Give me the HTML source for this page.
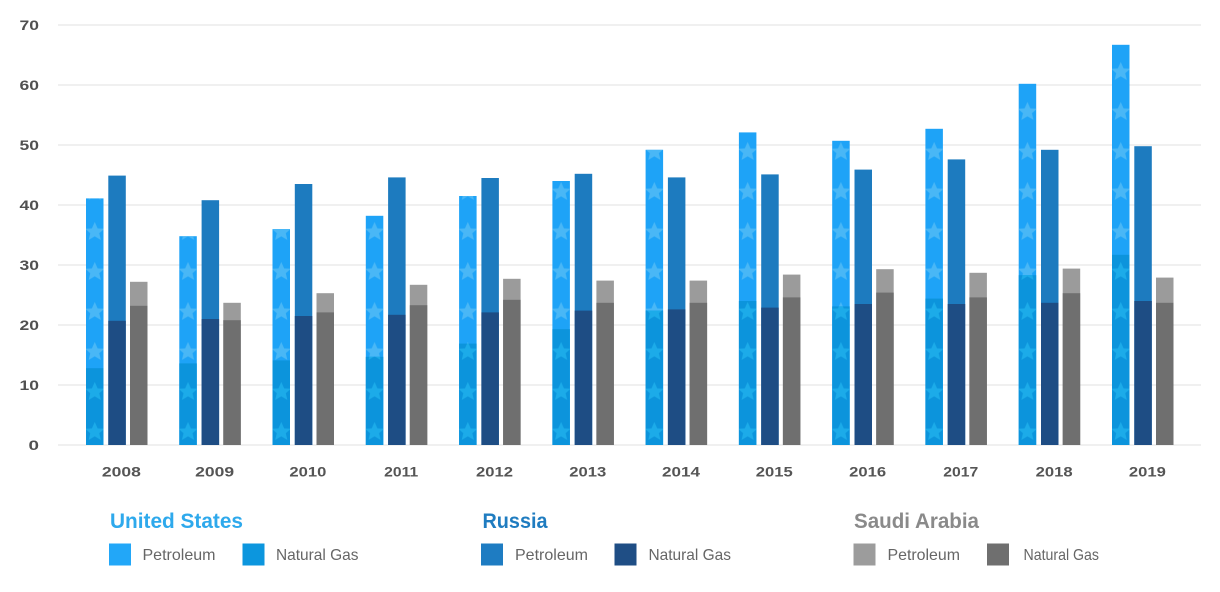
<!DOCTYPE html>
<html>
<head>
<meta charset="utf-8">
<style>
  html,body{margin:0;padding:0;background:#fff;}
  svg{display:block;}
  text{font-family:"Liberation Sans",sans-serif;}
  .b{font-weight:700;}
</style>
</head>
<body>
<svg width="1220" height="592" viewBox="0 0 1220 592" xmlns="http://www.w3.org/2000/svg">
  <defs>
    <pattern id="pl" patternUnits="userSpaceOnUse" x="86" y="411.7" width="93.27" height="40">
      <path transform="translate(8.75,20) scale(1.15)" fill="#5cc0f6" opacity="0.7" d="M0,-8.5 L2.5,-2.8 L8.4,-2.6 L3.9,1.3 L5.3,7.2 L0,4 L-5.3,7.2 L-3.9,1.3 L-8.4,-2.6 L-2.5,-2.8 Z"/>
    </pattern>
    <pattern id="pg" patternUnits="userSpaceOnUse" x="86" y="411.7" width="93.27" height="40">
      <path transform="translate(8.75,20) scale(1.15)" fill="#22b6ee" opacity="0.7" d="M0,-8.5 L2.5,-2.8 L8.4,-2.6 L3.9,1.3 L5.3,7.2 L0,4 L-5.3,7.2 L-3.9,1.3 L-8.4,-2.6 L-2.5,-2.8 Z"/>
    </pattern>
  </defs>
  <rect width="1220" height="592" fill="#fff"/>

  <!-- grid -->
  <g stroke="#e6e6e6" stroke-width="1.2">
    <line x1="58" x2="1201" y1="445" y2="445"/>
    <line x1="58" x2="1201" y1="385" y2="385"/>
    <line x1="58" x2="1201" y1="325" y2="325"/>
    <line x1="58" x2="1201" y1="265" y2="265"/>
    <line x1="58" x2="1201" y1="205" y2="205"/>
    <line x1="58" x2="1201" y1="145" y2="145"/>
    <line x1="58" x2="1201" y1="85" y2="85"/>
    <line x1="58" x2="1201" y1="25" y2="25"/>
  </g>

  <!-- y labels -->
  <g class="b" font-size="13.5" fill="#505050" text-anchor="end">
    <text x="39" y="449.8" textLength="10.5" lengthAdjust="spacingAndGlyphs">0</text>
    <text x="39" y="389.8" textLength="19.5" lengthAdjust="spacingAndGlyphs">10</text>
    <text x="39" y="329.8" textLength="19.5" lengthAdjust="spacingAndGlyphs">20</text>
    <text x="39" y="269.8" textLength="19.5" lengthAdjust="spacingAndGlyphs">30</text>
    <text x="39" y="209.8" textLength="19.5" lengthAdjust="spacingAndGlyphs">40</text>
    <text x="39" y="149.8" textLength="19.5" lengthAdjust="spacingAndGlyphs">50</text>
    <text x="39" y="89.8" textLength="19.5" lengthAdjust="spacingAndGlyphs">60</text>
    <text x="39" y="29.8" textLength="19.5" lengthAdjust="spacingAndGlyphs">70</text>
  </g>

  <!-- US petroleum (full bars) -->
  <g fill="#1ea3f7">
    <rect x="86" y="198.4" width="17.5" height="246.6"/>
    <rect x="179.3" y="236.2" width="17.5" height="208.8"/>
    <rect x="272.5" y="229" width="17.5" height="216"/>
    <rect x="365.8" y="215.8" width="17.5" height="229.2"/>
    <rect x="459.1" y="196" width="17.5" height="249"/>
    <rect x="552.4" y="181" width="17.5" height="264"/>
    <rect x="645.6" y="149.8" width="17.5" height="295.2"/>
    <rect x="738.9" y="132.4" width="17.5" height="312.6"/>
    <rect x="832.2" y="140.8" width="17.5" height="304.2"/>
    <rect x="925.4" y="128.8" width="17.5" height="316.2"/>
    <rect x="1018.7" y="83.8" width="17.5" height="361.2"/>
    <rect x="1112" y="44.8" width="17.5" height="400.2"/>
  </g>
  <!-- US petroleum stars -->
  <g fill="url(#pl)">
    <rect x="86" y="198.4" width="17.5" height="169.8"/>
    <rect x="179.3" y="236.2" width="17.5" height="127.2"/>
    <rect x="272.5" y="229" width="17.5" height="131.4"/>
    <rect x="365.8" y="215.8" width="17.5" height="141"/>
    <rect x="459.1" y="196" width="17.5" height="147.6"/>
    <rect x="552.4" y="181" width="17.5" height="148.2"/>
    <rect x="645.6" y="149.8" width="17.5" height="160.8"/>
    <rect x="738.9" y="132.4" width="17.5" height="168.6"/>
    <rect x="832.2" y="140.8" width="17.5" height="165.6"/>
    <rect x="925.4" y="128.8" width="17.5" height="169.8"/>
    <rect x="1018.7" y="83.8" width="17.5" height="191.4"/>
    <rect x="1112" y="44.8" width="17.5" height="210"/>
  </g>
  <!-- US natural gas -->
  <g fill="#0c94dc">
    <rect x="86" y="368.2" width="17.5" height="76.8"/>
    <rect x="179.3" y="363.4" width="17.5" height="81.6"/>
    <rect x="272.5" y="360.4" width="17.5" height="84.6"/>
    <rect x="365.8" y="356.8" width="17.5" height="88.2"/>
    <rect x="459.1" y="343.6" width="17.5" height="101.4"/>
    <rect x="552.4" y="329.2" width="17.5" height="115.8"/>
    <rect x="645.6" y="310.6" width="17.5" height="134.4"/>
    <rect x="738.9" y="301" width="17.5" height="144"/>
    <rect x="832.2" y="306.4" width="17.5" height="138.6"/>
    <rect x="925.4" y="298.6" width="17.5" height="146.4"/>
    <rect x="1018.7" y="275.2" width="17.5" height="169.8"/>
    <rect x="1112" y="254.8" width="17.5" height="190.2"/>
  </g>
  <g fill="url(#pg)">
    <rect x="86" y="368.2" width="17.5" height="76.8"/>
    <rect x="179.3" y="363.4" width="17.5" height="81.6"/>
    <rect x="272.5" y="360.4" width="17.5" height="84.6"/>
    <rect x="365.8" y="356.8" width="17.5" height="88.2"/>
    <rect x="459.1" y="343.6" width="17.5" height="101.4"/>
    <rect x="552.4" y="329.2" width="17.5" height="115.8"/>
    <rect x="645.6" y="310.6" width="17.5" height="134.4"/>
    <rect x="738.9" y="301" width="17.5" height="144"/>
    <rect x="832.2" y="306.4" width="17.5" height="138.6"/>
    <rect x="925.4" y="298.6" width="17.5" height="146.4"/>
    <rect x="1018.7" y="275.2" width="17.5" height="169.8"/>
    <rect x="1112" y="254.8" width="17.5" height="190.2"/>
  </g>

  <!-- Russia petroleum -->
  <g fill="#1d7bbf">
    <rect x="108.3" y="175.6" width="17.5" height="269.4"/>
    <rect x="201.6" y="200.2" width="17.5" height="244.8"/>
    <rect x="294.8" y="184" width="17.5" height="261"/>
    <rect x="388.1" y="177.4" width="17.5" height="267.6"/>
    <rect x="481.4" y="178" width="17.5" height="267"/>
    <rect x="574.7" y="173.8" width="17.5" height="271.2"/>
    <rect x="667.9" y="177.4" width="17.5" height="267.6"/>
    <rect x="761.2" y="174.4" width="17.5" height="270.6"/>
    <rect x="854.5" y="169.6" width="17.5" height="275.4"/>
    <rect x="947.7" y="159.4" width="17.5" height="285.6"/>
    <rect x="1041" y="149.8" width="17.5" height="295.2"/>
    <rect x="1134.3" y="146.2" width="17.5" height="298.8"/>
  </g>
  <!-- Russia natural gas -->
  <g fill="#1e4d84">
    <rect x="108.3" y="320.8" width="17.5" height="124.2"/>
    <rect x="201.6" y="319" width="17.5" height="126"/>
    <rect x="294.8" y="316" width="17.5" height="129"/>
    <rect x="388.1" y="314.8" width="17.5" height="130.2"/>
    <rect x="481.4" y="312.4" width="17.5" height="132.6"/>
    <rect x="574.7" y="310.6" width="17.5" height="134.4"/>
    <rect x="667.9" y="309.4" width="17.5" height="135.6"/>
    <rect x="761.2" y="307.6" width="17.5" height="137.4"/>
    <rect x="854.5" y="304" width="17.5" height="141"/>
    <rect x="947.7" y="304" width="17.5" height="141"/>
    <rect x="1041" y="302.8" width="17.5" height="142.2"/>
    <rect x="1134.3" y="301" width="17.5" height="144"/>
  </g>

  <!-- Saudi petroleum -->
  <g fill="#9b9b9b">
    <rect x="130" y="281.8" width="17.5" height="163.2"/>
    <rect x="223.3" y="302.8" width="17.5" height="142.2"/>
    <rect x="316.5" y="293.2" width="17.5" height="151.8"/>
    <rect x="409.8" y="284.8" width="17.5" height="160.2"/>
    <rect x="503.1" y="278.8" width="17.5" height="166.2"/>
    <rect x="596.4" y="280.6" width="17.5" height="164.4"/>
    <rect x="689.6" y="280.6" width="17.5" height="164.4"/>
    <rect x="782.9" y="274.6" width="17.5" height="170.4"/>
    <rect x="876.2" y="269.2" width="17.5" height="175.8"/>
    <rect x="969.4" y="272.8" width="17.5" height="172.2"/>
    <rect x="1062.7" y="268.6" width="17.5" height="176.4"/>
    <rect x="1156" y="277.6" width="17.5" height="167.4"/>
  </g>
  <!-- Saudi natural gas -->
  <g fill="#6f6f6f">
    <rect x="130" y="305.8" width="17.5" height="139.2"/>
    <rect x="223.3" y="320.2" width="17.5" height="124.8"/>
    <rect x="316.5" y="312.4" width="17.5" height="132.6"/>
    <rect x="409.8" y="305.2" width="17.5" height="139.8"/>
    <rect x="503.1" y="299.8" width="17.5" height="145.2"/>
    <rect x="596.4" y="302.8" width="17.5" height="142.2"/>
    <rect x="689.6" y="302.8" width="17.5" height="142.2"/>
    <rect x="782.9" y="297.4" width="17.5" height="147.6"/>
    <rect x="876.2" y="292.6" width="17.5" height="152.4"/>
    <rect x="969.4" y="297.4" width="17.5" height="147.6"/>
    <rect x="1062.7" y="293.2" width="17.5" height="151.8"/>
    <rect x="1156" y="302.8" width="17.5" height="142.2"/>
  </g>

  <!-- x labels -->
  <g class="b" font-size="14" fill="#555" text-anchor="middle">
    <text x="121.4" y="476.7" textLength="39" lengthAdjust="spacingAndGlyphs">2008</text>
    <text x="214.7" y="476.7" textLength="39" lengthAdjust="spacingAndGlyphs">2009</text>
    <text x="307.9" y="476.7" textLength="37" lengthAdjust="spacingAndGlyphs">2010</text>
    <text x="401.2" y="476.7" textLength="34" lengthAdjust="spacingAndGlyphs">2011</text>
    <text x="494.5" y="476.7" textLength="37" lengthAdjust="spacingAndGlyphs">2012</text>
    <text x="587.8" y="476.7" textLength="37" lengthAdjust="spacingAndGlyphs">2013</text>
    <text x="681.0" y="476.7" textLength="38" lengthAdjust="spacingAndGlyphs">2014</text>
    <text x="774.3" y="476.7" textLength="37" lengthAdjust="spacingAndGlyphs">2015</text>
    <text x="867.6" y="476.7" textLength="37" lengthAdjust="spacingAndGlyphs">2016</text>
    <text x="960.8" y="476.7" textLength="35" lengthAdjust="spacingAndGlyphs">2017</text>
    <text x="1054.1" y="476.7" textLength="37" lengthAdjust="spacingAndGlyphs">2018</text>
    <text x="1147.4" y="476.7" textLength="37" lengthAdjust="spacingAndGlyphs">2019</text>
  </g>

  <!-- Legend -->
  <g>
    <text class="b" x="110" y="528" font-size="21" fill="#2ea9ec" textLength="133" lengthAdjust="spacingAndGlyphs">United States</text>
    <rect x="109" y="543.5" width="22" height="22" fill="#22a7f8"/>
    <text x="142.5" y="560" font-size="16" fill="#666" textLength="73" lengthAdjust="spacingAndGlyphs">Petroleum</text>
    <rect x="242.5" y="543.5" width="22" height="22" fill="#0c96de"/>
    <text x="276" y="560" font-size="16" fill="#666" textLength="82.5" lengthAdjust="spacingAndGlyphs">Natural Gas</text>

    <text class="b" x="482.5" y="528" font-size="21" fill="#1f7cc0" textLength="65" lengthAdjust="spacingAndGlyphs">Russia</text>
    <rect x="481" y="543.5" width="22" height="22" fill="#1e7cc2"/>
    <text x="515" y="560" font-size="16" fill="#666" textLength="73" lengthAdjust="spacingAndGlyphs">Petroleum</text>
    <rect x="614.5" y="543.5" width="22" height="22" fill="#1f4e85"/>
    <text x="648.5" y="560" font-size="16" fill="#666" textLength="82.5" lengthAdjust="spacingAndGlyphs">Natural Gas</text>

    <text class="b" x="854" y="528" font-size="21" fill="#8a8a8a" textLength="125" lengthAdjust="spacingAndGlyphs">Saudi Arabia</text>
    <rect x="853.5" y="543.5" width="22" height="22" fill="#9c9c9c"/>
    <text x="887.5" y="560" font-size="16" fill="#666" textLength="72.5" lengthAdjust="spacingAndGlyphs">Petroleum</text>
    <rect x="987" y="543.5" width="22" height="22" fill="#6f6f6f"/>
    <text x="1023.5" y="560" font-size="16" fill="#666" textLength="75.5" lengthAdjust="spacingAndGlyphs">Natural Gas</text>
  </g>
</svg>
</body>
</html>
